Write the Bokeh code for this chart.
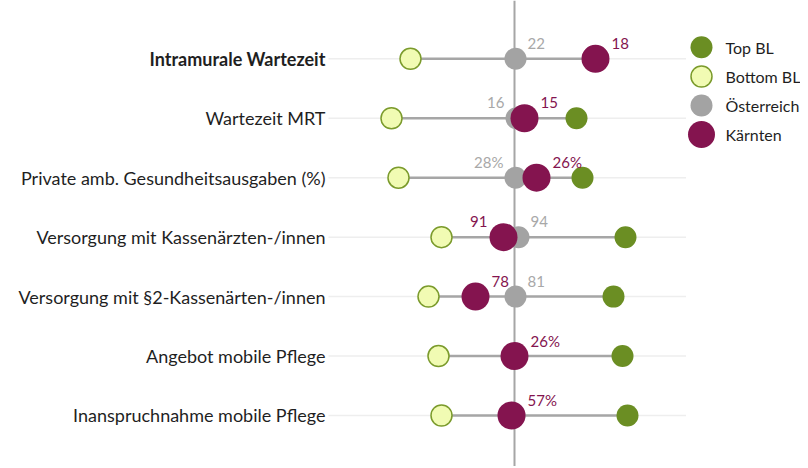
from bokeh.plotting import figure
from bokeh.models import Range1d, Span, ColumnDataSource
from bokeh.layouts import row
from bokeh.core.properties import value
from bokeh.embed import file_html
from bokeh.resources import INLINE

# ---------------- data ----------------
categories = [
    "Intramurale Wartezeit",
    "Wartezeit MRT",
    "Private amb. Gesundheitsausgaben (%)",
    "Versorgung mit Kassenärzten-/innen",
    "Versorgung mit §2-Kassenärten-/innen",
    "Angebot mobile Pflege",
    "Inanspruchnahme mobile Pflege",
]
bold_category = "Intramurale Wartezeit"
# relative position index (Österreich = 100)
top_bl = [140.5, 131, 134, 155.5, 149.5, 154, 156.5]
bottom_bl = [48, 38.5, 42, 63.5, 57, 62, 63.5]
oesterreich = [100.5, 101, 100.5, 102, 100.5, 100, 100]
kaernten = [140.5, 105, 111, 94.5, 80.5, 100, 98.5]
oe_labels = ["22", "16", "28%", "94", "81", "", ""]
k_labels = ["18", "15", "26%", "91", "78", "26%", "57%"]
oe_side = ["right", "left", "left", "right", "right", "right", "right"]
k_side = ["right", "right", "right", "left", "right", "right", "right"]
series_names = ["Top BL", "Bottom BL", "Österreich", "Kärnten"]
reference_value = 100

# ---------------- style ----------------
C_TOP = "#6b8e23"
C_BOT_FILL = "#f1fbb3"
C_BOT_LINE = "#7b9b2c"
C_OE = "#a3a3a3"
C_K = "#84144f"
C_LINE = "#a6a6a6"
FONT = "Lato"
LABEL_ANCHOR = 7.0   # where category labels end / grid lines start
H = 466

rows_y = list(range(1, len(categories) + 1))

x_range = Range1d(-157, 186)
y_range = Range1d(7.858, 0.019)

p = figure(width=686, height=H, x_range=x_range, y_range=y_range,
           output_backend="svg", toolbar_location=None,
           x_axis_location=None, y_axis_location=None,
           min_border_left=0, min_border_right=0, min_border_top=0, min_border_bottom=0)
p.outline_line_color = None
p.grid.visible = False

# light row guide lines
p.segment(x0=[LABEL_ANCHOR] * len(rows_y), y0=rows_y, x1=[x_range.end] * len(rows_y), y1=rows_y,
          line_color="#eeeeee", line_width=1.5)

# vertical reference line (Österreich)
p.add_layout(Span(location=reference_value, dimension="height", line_color=C_LINE,
                  line_width=2, level="underlay"))

# connecting lines
x0 = [min(a, b, c, d) for a, b, c, d in zip(top_bl, bottom_bl, oesterreich, kaernten)]
x1 = [max(a, b, c, d) for a, b, c, d in zip(top_bl, bottom_bl, oesterreich, kaernten)]
p.segment(x0=x0, y0=rows_y, x1=x1, y1=rows_y, line_color=C_LINE, line_width=2.5)

p.scatter(bottom_bl, rows_y, size=21, fill_color=C_BOT_FILL, line_color=C_BOT_LINE, line_width=1.5)
p.scatter(top_bl, rows_y, size=22, fill_color=C_TOP, line_color=None)
p.scatter(oesterreich, rows_y, size=22, fill_color=C_OE, line_color=None)
p.scatter(kaernten, rows_y, size=28, fill_color=C_K, line_color=None)

# value labels
def label_source(xs, labels, sides, off):
    d = dict(x=[], y=[], t=[], a=[], o=[])
    for xv, yv, t, s in zip(xs, rows_y, labels, sides):
        if not t:
            continue
        d["x"].append(xv); d["y"].append(yv); d["t"].append(t)
        d["a"].append("left" if s == "right" else "right")
        d["o"].append(off if s == "right" else -off)
    return ColumnDataSource(d)

oe_src = label_source(oesterreich, oe_labels, oe_side, 12)
k_src = label_source(kaernten, k_labels, k_side, 16)
p.text(x="x", y="y", text="t", source=oe_src, text_align="a", x_offset="o", y_offset=-15.5,
       text_baseline="middle", text_color="#a8a8a8", text_font=value(FONT), text_font_size="15px")
p.text(x="x", y="y", text="t", source=k_src, text_align="a", x_offset="o", y_offset=-15.5,
       text_baseline="middle", text_color=C_K, text_font=value(FONT), text_font_size="15px")

# category labels
for is_bold in (False, True):
    sel = [(c, yv) for c, yv in zip(categories, rows_y) if (c == bold_category) == is_bold]
    p.text(x=[LABEL_ANCHOR] * len(sel), y=[s[1] for s in sel], text=[s[0] for s in sel],
           text_align="right", text_baseline="middle", x_offset=-3,
           text_font_style="bold" if is_bold else "normal",
           text_font=value(FONT), text_font_size="18px", text_color="#1f1f1f")

# ---------------- legend (separate panel) ----------------
lg = figure(width=114, height=H, x_range=Range1d(0, 114), y_range=Range1d(H, 0),
            output_backend="svg", toolbar_location=None,
            x_axis_location=None, y_axis_location=None,
            min_border_left=0, min_border_right=0, min_border_top=0, min_border_bottom=0)
lg.outline_line_color = None
lg.grid.visible = False
leg_y = [46.7, 76, 105, 134]
lg.scatter([15] * 4, leg_y, size=[22, 21, 22, 27],
           fill_color=[C_TOP, C_BOT_FILL, C_OE, C_K],
           line_color=[None, C_BOT_LINE, None, None], line_width=1.5)
lg.text([39] * 4, leg_y, text=series_names, text_baseline="middle", text_align="left",
        text_font=value(FONT), text_font_size="16px", text_color="#1f1f1f")

layout = row(p, lg)
open("out.html", "w").write(file_html(layout, INLINE))
